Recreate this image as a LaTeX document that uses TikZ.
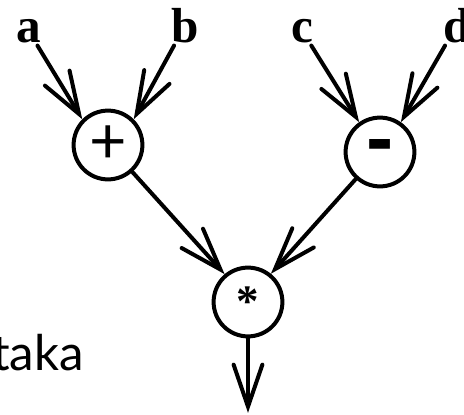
\documentclass[tikz,border=0pt]{standalone}
\usepackage{fontspec}
\setmainfont{Liberation Serif}
\newfontfamily\latofont{Lato}
\newfontfamily\heavyfont{Liberation Sans}
\usetikzlibrary{arrows.meta}

\begin{document}
\begin{tikzpicture}[
    opnode/.style={draw, circle, line width=1mm, minimum size=1.72cm, inner sep=0pt},
    varlabel/.style={anchor=base, inner sep=2pt, font=\bfseries\fontsize{35}{35}\selectfont},
    edge/.style={line width=1mm, line cap=round, -{Straight Barb[length=1.05cm, width=0.72cm, line cap=round]}}
  ]
        \useasboundingbox (0,0) rectangle (11.6,10.35);

        \node[varlabel] (a) at (0.71, 9.3) {a};
        \node[varlabel] (b) at (4.63, 9.3) {b};
        \node[varlabel] (c) at (7.55, 9.3) {c};
        \node[varlabel] (d) at (11.42, 9.3) {d};

        \node[opnode, font=\latofont\fontsize{46}{46}\selectfont] (plus) at (2.7, 6.725) {+};
        \node[opnode, font=\heavyfont\bfseries\fontsize{58}{58}\selectfont] (minus) at (9.5, 6.55) {-};
        \node[opnode, font=\bfseries\fontsize{32}{32}\selectfont] (times) at (6.2, 2.8) {\raisebox{-0.35ex}{*}};

        \node[anchor=base east, inner sep=0pt, font=\latofont\fontsize{35}{35}\selectfont] (word) at (2.1, 1.1) {taka};

        \coordinate (out) at (6.2, 0.03);

        \draw[edge] (a) -- (plus.135);
        \draw[edge] (b) -- (plus.45);
        \draw[edge] (c) -- (minus.125);
        \draw[edge] (d) -- (minus.55);
        \draw[edge] (plus) -- (times.130);
        \draw[edge] (minus) -- (times.51);
        \draw[edge] (times) -- (out);
    \end{tikzpicture}
\end{document}
